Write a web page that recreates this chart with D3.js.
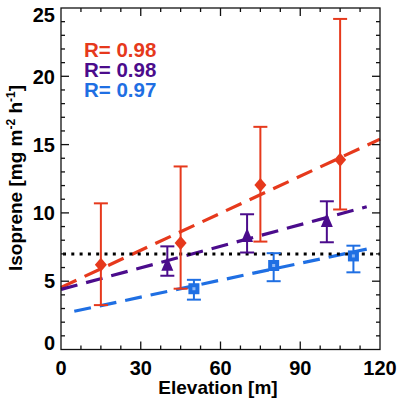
<!DOCTYPE html>
<html><head><meta charset="utf-8">
<script src="https://cdn.jsdelivr.net/npm/d3@7"></script>
<style>body{margin:0;background:#fff}svg{display:block}text{font-family:"Liberation Sans",Arial,Helvetica,sans-serif;font-weight:bold}</style>
</head><body>
<script>
// Data
const redX = [15, 45, 75, 105];
const redY = [6.2, 7.8, 12.05, 13.9];
const redLo = [3.25, 4.45, 7.9, 10.25];
const redHi = [10.7, 13.4, 16.3, 24.2];
const purX = [40, 70, 100];
const purY = [6.2, 8.3, 9.4];
const purLo = [5.4, 7.1, 7.85];
const purHi = [7.55, 9.9, 10.85];
const bluX = [50, 80, 110];
const bluY = [4.45, 6.15, 6.85];
const bluLo = [3.65, 5.0, 5.65];
const bluHi = [5.1, 7.05, 7.6];
// fit lines [x0, y0, x1, y1]
const redFit = [0, 4.55, 120, 15.4];
const purFit = [0, 4.4, 115, 10.45];
const bluFit = [5, 2.8, 115, 7.35];
const refLine = 7;
const rLabels = ["R= 0.98", "R= 0.98", "R= 0.97"];
const xTicks = [0, 30, 60, 90, 120];
const yTicks = [0, 5, 10, 15, 20, 25];

const RED = "#e6391c", PUR = "#4b0c8c", BLU = "#1f6fe3";
const W = 397, H = 400;
const svg = d3.select("body").append("svg").attr("width", W).attr("height", H);
const x = d3.scaleLinear().domain([0, 120]).range([61, 380]);
const y = d3.scaleLinear().domain([0, 25]).range([349.5, 8]);
const g = svg.append("g");

// fit lines
function fit(f, color, offset) {
  g.append("line").attr("x1", x(f[0])).attr("y1", y(f[1])).attr("x2", x(f[2])).attr("y2", y(f[3]))
   .attr("stroke", color).attr("stroke-width", 3.2).attr("stroke-dasharray", "17,9")
   .attr("stroke-dashoffset", offset);
}
fit(redFit, RED, 0);
fit(purFit, PUR, 0);
fit(bluFit, BLU, 0);

// reference dotted line
g.append("line").attr("x1", x(0) + 2).attr("x2", x(120)).attr("y1", y(refLine)).attr("y2", y(refLine))
 .attr("stroke", "#000").attr("stroke-width", 3).attr("stroke-dasharray", "3,5.3");

function errbars(xs, lo, hi, color) {
  xs.forEach((v, i) => {
    const cx = x(v);
    g.append("line").attr("x1", cx).attr("x2", cx).attr("y1", y(lo[i])).attr("y2", y(hi[i])).attr("stroke", color).attr("stroke-width", 2);
    [lo[i], hi[i]].forEach(e => g.append("line").attr("x1", cx - 7).attr("x2", cx + 7).attr("y1", y(e)).attr("y2", y(e)).attr("stroke", color).attr("stroke-width", 2));
  });
}
errbars(redX, redLo, redHi, RED);
errbars(purX, purLo, purHi, PUR);
errbars(bluX, bluLo, bluHi, BLU);

// markers
redX.forEach((v, i) => {
  const cx = x(v), cy = y(redY[i]);
  g.append("path").attr("d", `M${cx},${cy - 7}L${cx + 6},${cy}L${cx},${cy + 7}L${cx - 6},${cy}Z`).attr("fill", RED);
});
purX.forEach((v, i) => {
  const cx = x(v), cy = y(purY[i]);
  g.append("path").attr("d", `M${cx},${cy - 8}L${cx + 6},${cy + 6}L${cx - 6},${cy + 6}Z`).attr("fill", PUR);
});
bluX.forEach((v, i) => {
  const cx = x(v), cy = y(bluY[i]);
  g.append("rect").attr("x", cx - 5.5).attr("y", cy - 5.5).attr("width", 11).attr("height", 11).attr("fill", BLU);
  g.append("rect").attr("x", cx - 1.5).attr("y", cy - 1.5).attr("width", 3).attr("height", 3).attr("fill", "#8fb8f5");
});

// axes box
const ax = svg.append("g").attr("stroke", "#111").attr("stroke-width", 1.3);
ax.append("rect").attr("x", 61).attr("y", 8).attr("width", 319).attr("height", 341.5).attr("fill", "none");
d3.range(0, 120.01, 7.5).forEach(v => {
  const len = (v % 30 === 0) ? 8 : 4;
  if (v === 0 || v === 120) return;
  ax.append("line").attr("x1", x(v)).attr("x2", x(v)).attr("y1", y(0)).attr("y2", y(0) - len);
  ax.append("line").attr("x1", x(v)).attr("x2", x(v)).attr("y1", y(25)).attr("y2", y(25) + len);
});
d3.range(0, 25.01, 1).forEach(v => {
  const len = (v % 5 === 0) ? 8 : 4;
  if (v === 0 || v === 25) return;
  ax.append("line").attr("x1", x(0)).attr("x2", x(0) + len).attr("y1", y(v)).attr("y2", y(v));
  ax.append("line").attr("x1", x(120)).attr("x2", x(120) - len).attr("y1", y(v)).attr("y2", y(v));
});

// tick labels
svg.selectAll(".xl").data(xTicks).enter().append("text")
  .attr("x", d => x(d)).attr("y", 375).attr("text-anchor", "middle").attr("font-size", 20).attr("fill", "#000").text(d => d);
svg.selectAll(".yl").data(yTicks).enter().append("text")
  .attr("x", 55).attr("y", d => y(d) + (d === 25 ? 7 : d === 0 ? -6.5 : 0)).attr("dy", "0.36em")
  .attr("text-anchor", "end").attr("font-size", 20).attr("fill", "#000").text(d => d);

// axis titles
svg.append("text").attr("x", 218).attr("y", 394).attr("text-anchor", "middle").attr("font-size", 19).text("Elevation [m]");
const yt = svg.append("text").attr("transform", "translate(22,178) rotate(-90)").attr("text-anchor", "middle").attr("font-size", 19);
yt.append("tspan").text("Isoprene [mg m");
yt.append("tspan").attr("dy", -7).attr("font-size", 12).text("-2");
yt.append("tspan").attr("dy", 7).text(" h");
yt.append("tspan").attr("dy", -7).attr("font-size", 12).text("-1");
yt.append("tspan").attr("dy", 7).text("]");

// R labels
const rc = [RED, PUR, BLU];
rLabels.forEach((t, i) => {
  svg.append("text").attr("x", 84).attr("y", 57 + i * 20).attr("font-size", 20.5).attr("fill", rc[i]).text(t);
});
</script>
</body></html>
